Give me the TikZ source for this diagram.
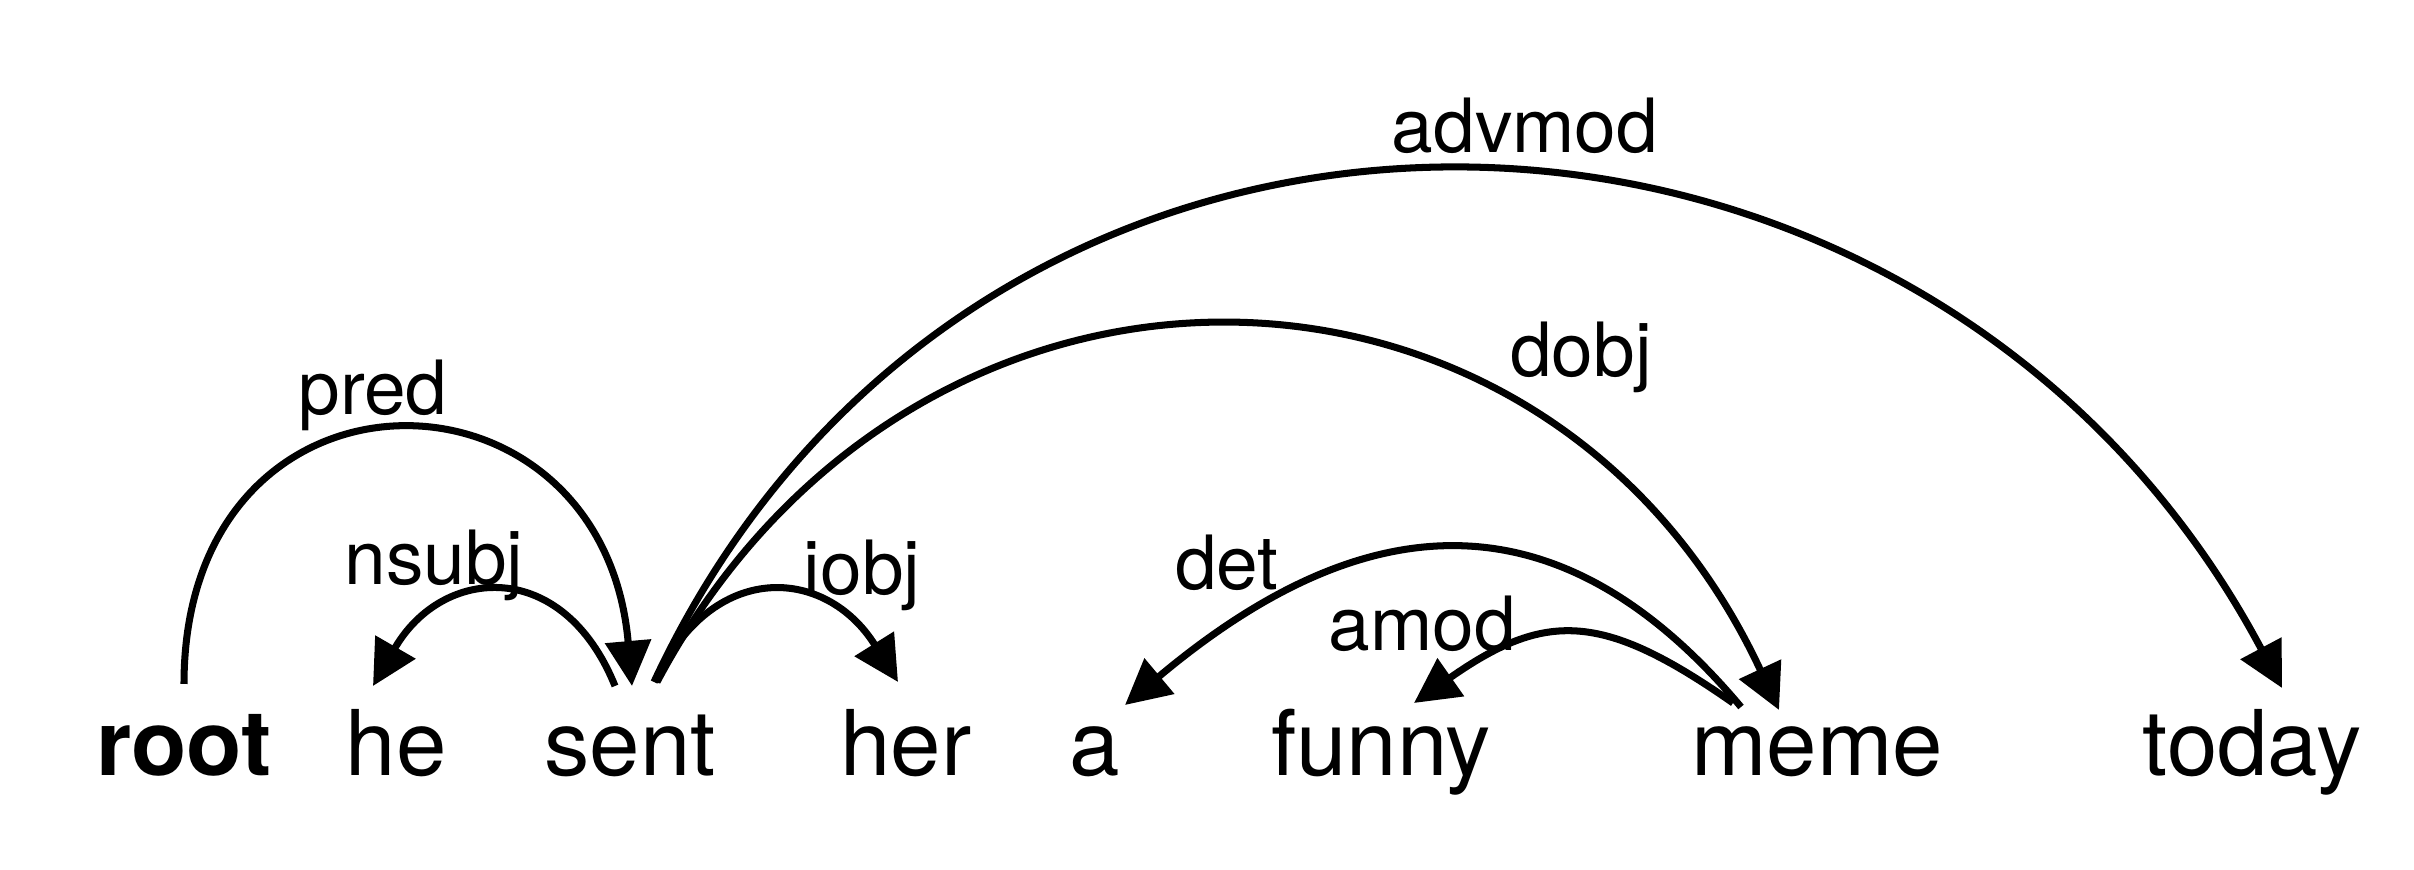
\documentclass[tikz,border=0pt]{standalone}
\usepackage{fontspec}
\setmainfont{TeX Gyre Heros}
\usetikzlibrary{arrows.meta}

\begin{document}
\begin{tikzpicture}[
    word/.style={anchor=base,inner sep=0pt,font=\fontsize{25.8}{30}\selectfont},
    rel/.style={anchor=base,inner sep=0pt,font=\fontsize{21.3}{26}\selectfont},
    dep/.style={line width=2pt,-{Triangle[length=0.45cm,width=0.45cm]}}
]
    \useasboundingbox (0,0) rectangle (24.14,8.70);

    % Sentence
    \node[word,font=\fontsize{25.8}{30}\selectfont\bfseries] (root) at (1.84,0.94) {root};
    \node[word] (he)    at (3.96,0.94)  {he};
    \node[word] (sent)  at (6.30,0.94)  {sent};
    \node[word] (her)   at (9.06,0.94)  {her};
    \node[word] (a)     at (10.95,0.94) {a};
    \node[word] (funny) at (13.81,0.94) {funny};
    \node[word] (meme)  at (18.17,0.94) {meme};
    \node[word] (today) at (22.52,0.94) {today};

    % Relation labels
    \node[rel] (pred-lbl)   at (3.73,4.55)  {pred};
    \node[rel] (nsubj-lbl)  at (4.34,2.85)  {nsubj};
    \node[rel] (iobj-lbl)   at (8.62,2.75)  {iobj};
    \node[rel] (det-lbl)    at (12.27,2.80) {det};
    \node[rel] (amod-lbl)   at (14.22,2.19) {amod};
    \node[rel] (dobj-lbl)   at (15.81,4.93) {dobj};
    \node[rel] (advmod-lbl) at (15.25,7.17) {advmod};

    % Arcs
    \draw[dep] ([shift={(0,0.92)}]root.base) .. controls +(90:3.39) and +(95:3.39) .. ([shift={(0.02,0.90)}]sent.base);
    \draw[dep] ([shift={(-0.15,0.90)}]sent.base) .. controls +(112:1.39) and +(60:1.39) .. ([shift={(-0.23,0.90)}]he.base);
    \draw[dep] ([shift={(0.25,0.94)}]sent.base) .. controls +(65:1.36) and +(122:1.36) .. ([shift={(-0.08,0.94)}]her.base);
    \draw[dep] ([shift={(0.27,0.94)}]sent.base) .. controls +(62:5.5) and +(115:5.5) .. ([shift={(-0.38,0.66)}]meme.base);
    \draw[dep] ([shift={(0.24,0.94)}]sent.base) .. controls +(65:7.65) and +(118:7.65) .. ([shift={(0.30,0.88)}]today.base);
    \draw[dep] ([shift={(-0.76,0.69)}]meme.base) .. controls +(130:2.97) and +(40:2.97) .. ([shift={(0.30,0.71)}]a.base);
    \draw[dep] ([shift={(-0.84,0.73)}]meme.base) .. controls +(145:1.6) and +(35:1.6) .. ([shift={(0.33,0.73)}]funny.base);
\end{tikzpicture}
\end{document}
